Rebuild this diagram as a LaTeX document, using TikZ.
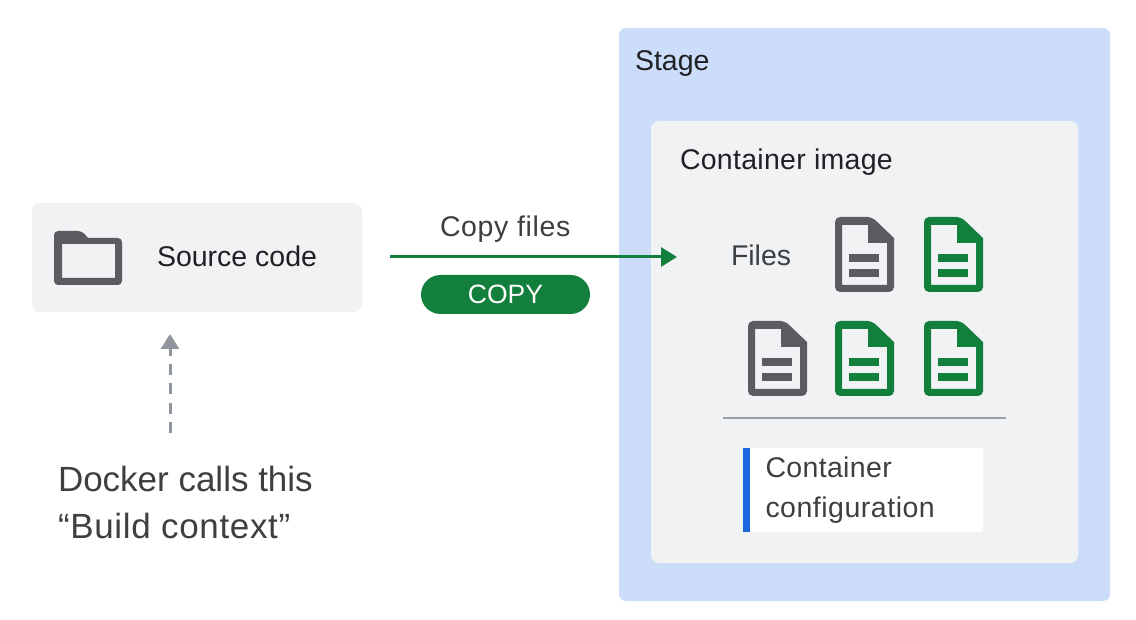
\documentclass[tikz,border=0pt]{standalone}
\usepackage{fontspec}
\setmainfont{Liberation Sans}
\usetikzlibrary{arrows.meta}
\definecolor{stagec}{HTML}{CCDDFA}
\definecolor{panelc}{HTML}{F0F2F4}
\definecolor{greenc}{HTML}{137F3C}
\definecolor{iconc}{HTML}{5A5C62}
\definecolor{inkc}{HTML}{202124}
\definecolor{softc}{HTML}{3C4043}
\definecolor{arrowc}{HTML}{8F969D}
\definecolor{rulec}{HTML}{9AA0A6}
\definecolor{bluec}{HTML}{1A67E0}
\newcommand{\spaced}[1]{\addfontfeature{LetterSpace=#1}}
\tikzset{
  x=1pt,y=-1pt,
  boxshape/.style={inner sep=0,outer sep=0,rounded corners=8pt,anchor=north west},
  label28/.style={inner sep=0,outer sep=0,anchor=base west,text=inkc,font=\fontsize{28.5}{33}\selectfont},
  big/.style={inner sep=0,outer sep=0,anchor=west,align=left,text=softc,font=\fontsize{35}{47}\selectfont},
  docicon/.pic={
    \fill[pic actions,even odd rule]
      [rounded corners=5pt] (0,0) -- (37,0) [rounded corners=0pt] -- (59,21) [rounded corners=5pt] -- (59,75) -- (0,75) -- cycle
      [rounded corners=0pt] (7,8) -- (33,8) -- (33,26) -- (52,26) -- (52,68) -- (7,68) -- cycle;
    \fill[pic actions] (14,37) rectangle (44,45);
    \fill[pic actions] (14,52) rectangle (44,60);
  }
}
\begin{document}
\begin{tikzpicture}
\useasboundingbox (0,0) rectangle (1136,620);
\fill[white] (0,0) rectangle (1136,620);

\node[boxshape,fill=stagec,minimum width=491pt,minimum height=573pt,rounded corners=7pt] (stage) at (619,28) {};
\node[boxshape,fill=panelc,minimum width=427pt,minimum height=442pt] (image) at (651,121) {};
\node[boxshape,fill=panelc,minimum width=330pt,minimum height=109pt] (source) at (32,203) {};

% folder icon
\fill[iconc,even odd rule]
  [rounded corners=4pt] (54,231) -- (82,231) [rounded corners=0pt] -- (88,238) [rounded corners=4pt] -- (122,238) -- (122,285) -- (54,285) -- cycle
  [rounded corners=0pt] (62,244) -- (115,244) -- (115,278) -- (62,278) -- cycle;

\node[label28] (sourcetext) at (157,267) {Source code};
\node[label28] (stagetext) at (635,71) {Stage};
\node[label28] (imagetext) at (680,170) {\spaced{1}Container image};
\node[label28,text=softc] (copytext) at (440,237) {\spaced{2.3}Copy files};
\node[label28,text=softc] (filestext) at (731,266) {Files};

% green connector
\coordinate (copystart) at (390,257);
\coordinate (copyend) at (677,257);
\draw[greenc,line width=3pt,-{Triangle[length=16pt,width=19pt]}] (copystart) -- (copyend);

\node[inner sep=0,outer sep=0,fill=greenc,rounded corners=19.5pt,minimum width=169pt,minimum height=39pt,text=white,font=\fontsize{26.5}{32}\selectfont] (copypill) at (505.5,294.5) {\raisebox{-1pt}{COPY}};

% document icons
\pic[iconc] at (835,217) {docicon};
\pic[greenc] at (924,217) {docicon};
\pic[iconc] at (748,321) {docicon};
\pic[greenc] at (835,321) {docicon};
\pic[greenc] at (924,321) {docicon};

% separator
\coordinate (ruleleft) at (723,418);
\coordinate (ruleright) at (1006,418);
\draw[rulec,line width=2pt] (ruleleft) -- (ruleright);

% configuration card
\node[inner sep=0,outer sep=0,fill=white,anchor=north west,minimum width=233pt,minimum height=84pt] (config) at (750,448) {};
\fill[bluec] (743,448) rectangle (750,532);
\node[inner sep=0,outer sep=0,anchor=west,align=left,text=softc,font=\fontsize{28.5}{40}\selectfont] (configtext) at (765.5,490) {\spaced{1.2}Container\\\spaced{1.8}configuration};

% dashed connector
\coordinate (contextstart) at (170,433);
\coordinate (contextend) at (170,334);
\draw[arrowc,line width=3pt,dash pattern=on 11pt off 8.3pt,-{Triangle[length=15pt,width=18pt]}] (contextstart) -- (contextend);

\node[big] (context) at (58,502) {Docker calls this\\\spaced{1.9}“Build context”};
\end{tikzpicture}
\end{document}
